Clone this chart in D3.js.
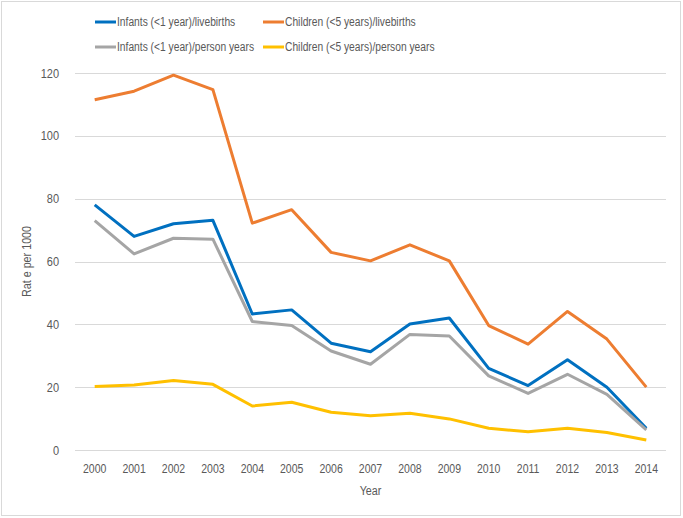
<!DOCTYPE html>
<html lang="en">
<head>
<meta charset="utf-8">
<title>Rates per 1000</title>
<style>
body{
  margin: 0;
  background: #fff;
}
.axis text{
  font: 12.5px "Liberation Sans", sans-serif;
  fill: #595959;
}
.axis path, .axis line{
  display: none;
}
.grid line{
  stroke: #d9d9d9;
  stroke-width: 1;
  shape-rendering: crispEdges;
}
.legend text, .title text{
  font: 12.5px "Liberation Sans", sans-serif;
  fill: #595959;
}
</style>
</head>
<body>
<div id="chart"></div>
<script src="https://d3js.org/d3.v7.min.js"></script>
<script>
  // chart data
  const years = ["2000","2001","2002","2003","2004","2005","2006","2007","2008","2009","2010","2011","2012","2013","2014"];
  const infantsLive = [78.0, 68.0, 72.0, 73.1, 43.3, 44.6, 34.0, 31.3, 40.1, 42.0, 26.0, 20.5, 28.7, 20.0, 6.9];
  const childrenLive = [111.5, 114.2, 119.3, 114.7, 72.2, 76.5, 62.9, 60.2, 65.3, 60.2, 39.6, 33.7, 44.1, 35.3, 20.0];
  const infantsPY = [73.0, 62.4, 67.4, 67.1, 40.9, 39.6, 31.5, 27.3, 36.8, 36.3, 23.6, 18.0, 24.1, 17.7, 6.4];
  const childrenPY = [20.2, 20.7, 22.1, 20.9, 14.0, 15.2, 12.0, 10.9, 11.7, 9.9, 6.9, 5.8, 6.9, 5.6, 3.2];
  const yTicks = [0, 20, 40, 60, 80, 100, 120];

  const series = [
    { name: "Infants (<1 year)/livebirths", values: infantsLive, color: "#0070c0" },
    { name: "Children (<5 years)/livebirths", values: childrenLive, color: "#ed7d31" },
    { name: "Infants (<1 year)/person years", values: infantsPY, color: "#a5a5a5" },
    { name: "Children (<5 years)/person years", values: childrenPY, color: "#ffc000" }
  ];

  const width = 683;
  const height = 518;
  const margin = { top: 73, right: 17, bottom: 68, left: 75 };

  // the original font is narrow (Calibri-like): squeeze text horizontally
  function condense(sel, k) {
    sel.each(function() {
      const len = this.getComputedTextLength();
      d3.select(this)
        .attr("textLength", len * k)
        .attr("lengthAdjust", "spacingAndGlyphs");
    });
  }

  const svg = d3.select("#chart")
    .append("svg")
    .attr("width", width)
    .attr("height", height);

  // outer border
  svg.append("rect")
    .attr("x", 1.5).attr("y", 1.5)
    .attr("width", 679).attr("height", 514)
    .attr("fill", "#fff")
    .attr("stroke", "#d9d9d9");

  const x = d3.scaleBand()
    .domain(years)
    .range([margin.left, width - margin.right]);

  const y = d3.scaleLinear()
    .domain([0, 120])
    .range([height - margin.bottom, margin.top]);

  // gridlines
  svg.append("g")
    .attr("class", "grid")
    .selectAll("line")
    .data(yTicks)
    .enter()
    .append("line")
    .attr("x1", margin.left)
    .attr("x2", width - margin.right)
    .attr("y1", d => Math.round(y(d)) + 0.5)
    .attr("y2", d => Math.round(y(d)) + 0.5);

  // y axis
  svg.append("g")
    .attr("class", "axis")
    .attr("transform", `translate(${margin.left - 16},0)`)
    .call(d3.axisLeft(y).tickValues(yTicks).tickSize(0).tickPadding(0))
    .selectAll("text").call(condense, 0.88);

  // x axis
  svg.append("g")
    .attr("class", "axis")
    .attr("transform", `translate(0,${height - margin.bottom + 10})`)
    .call(d3.axisBottom(x).tickSize(0).tickPadding(4))
    .selectAll("text").call(condense, 0.84);

  // lines
  const line = d3.line()
    .x((d, i) => x(years[i]) + x.bandwidth() / 2)
    .y(d => y(d));

  svg.append("g")
    .selectAll("path")
    .data(series)
    .enter()
    .append("path")
    .attr("fill", "none")
    .attr("stroke", d => d.color)
    .attr("stroke-width", 3)
    .attr("stroke-linejoin", "round")
    .attr("d", d => line(d.values));

  // axis titles
  const titles = svg.append("g").attr("class", "title");
  titles.append("text")
    .attr("x", x("2007") + x.bandwidth() / 2)
    .attr("y", 495)
    .attr("text-anchor", "middle")
    .text("Year");
  titles.append("text")
    .attr("transform", `translate(31,${y(60)}) rotate(-90)`)
    .attr("text-anchor", "middle")
    .text("Rat e per 1000");
  titles.selectAll("text").call(condense, 0.86);

  // legend
  const legendPos = [[95, 22], [263, 22], [95, 47], [263, 47]];
  const legend = svg.append("g")
    .attr("class", "legend")
    .selectAll("g")
    .data(series)
    .enter()
    .append("g")
    .attr("transform", (d, i) => `translate(${legendPos[i][0]},${legendPos[i][1]})`);

  legend.append("line")
    .attr("x1", 0).attr("x2", 21)
    .attr("stroke", d => d.color)
    .attr("stroke-width", 3);

  legend.append("text")
    .attr("x", 22)
    .attr("dy", "0.35em")
    .text(d => d.name)
    .call(condense, 0.82);
</script>
</body>
</html>
